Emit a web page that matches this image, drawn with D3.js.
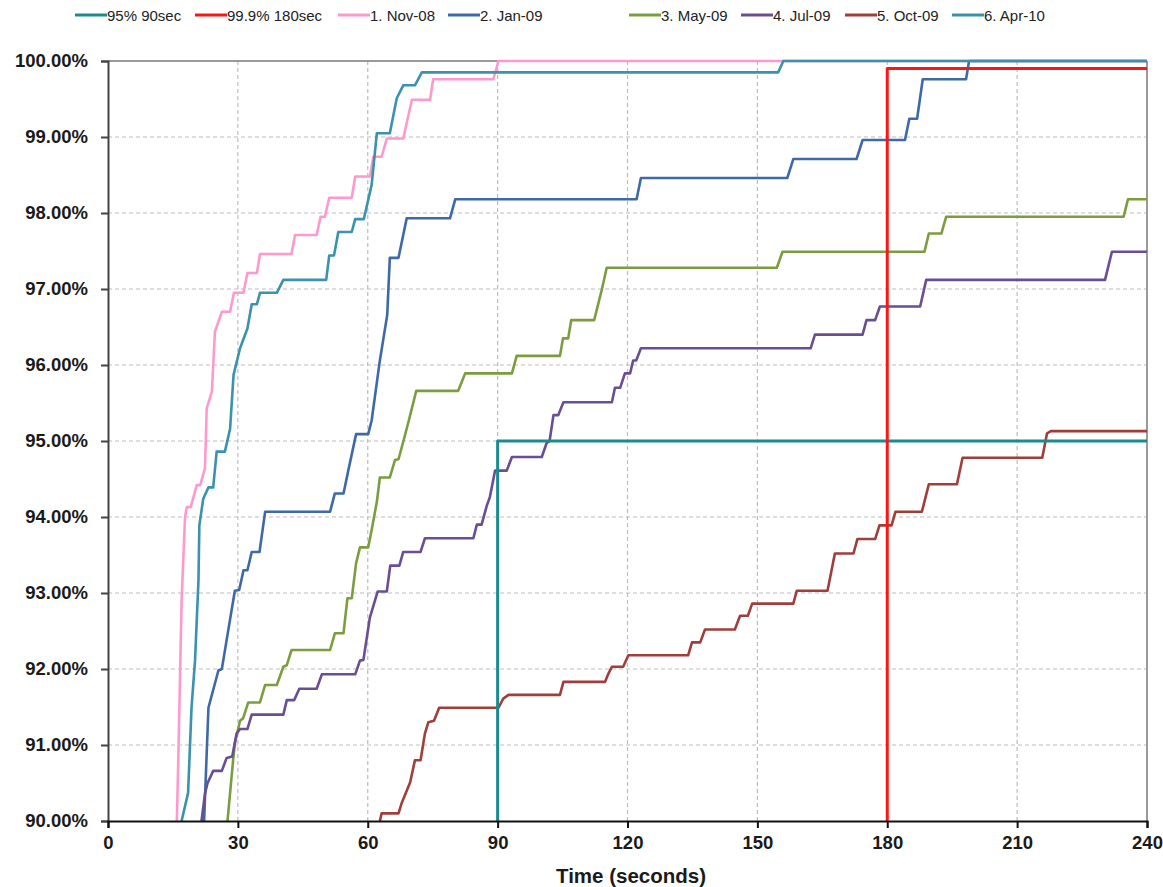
<!DOCTYPE html>
<html>
<head>
<meta charset="utf-8">
<script src="https://cdn.jsdelivr.net/npm/d3@7"></script>
<style>
  body { margin: 0; background: #fff; }
  text { font-family: "Liberation Sans", Arial, sans-serif; }
</style>
</head>
<body>
<div id="chart"></div>
<script>
// chart data: [seconds, percent]
var xTicks = [0, 30, 60, 90, 120, 150, 180, 210, 240];
var yTicks = [90, 91, 92, 93, 94, 95, 96, 97, 98, 99, 100];

var ref95 = [[90, 90], [90, 95], [240, 95]];
var ref999 = [[180, 90], [180, 99.9], [240, 99.9]];

var nov08 = [[15.9,90],[16.2,90.71],[17.0,92.9],[17.8,94.0],[18.2,94.13],[19.1,94.13],[20.5,94.42],[21.3,94.42],[22.4,94.64],[22.8,95.43],[24.0,95.65],[24.7,96.44],[26.3,96.7],[28.2,96.7],[29.1,96.95],[31.3,96.95],[32.2,97.21],[34.4,97.21],[35.1,97.46],[42.4,97.46],[43.2,97.71],[48.2,97.71],[49.1,97.95],[50.1,97.95],[51.1,98.2],[56.3,98.2],[57.1,98.48],[60.5,98.48],[61.3,98.74],[63.2,98.74],[64.4,98.98],[68.2,98.98],[70.2,99.49],[74.4,99.49],[75.1,99.76],[89.0,99.76],[90.2,100],[240,100]];

var jan09 = [[22.2,90],[23.2,91.49],[25.5,91.98],[26.3,92.0],[27.4,92.38],[29.3,93.03],[30.3,93.04],[31.3,93.3],[32.2,93.3],[33.2,93.54],[35.0,93.54],[36.3,94.07],[51.3,94.07],[52.4,94.31],[54.4,94.31],[55.5,94.61],[57.3,95.09],[60.1,95.09],[60.9,95.27],[62.8,96.06],[64.5,96.66],[65.1,97.41],[67.1,97.41],[69.0,97.93],[79.0,97.93],[80.2,98.18],[122.1,98.18],[123.1,98.46],[156.9,98.46],[158.3,98.71],[172.9,98.71],[174.3,98.96],[184.1,98.96],[185.1,99.24],[186.9,99.24],[188.2,99.76],[198.2,99.76],[198.9,100],[240,100]];

var may09 = [[27.6,90],[28.9,90.8],[29.3,91.02],[30.5,91.32],[31.2,91.35],[32.4,91.56],[35.1,91.56],[36.3,91.79],[39.0,91.79],[40.5,92.03],[41.3,92.05],[42.4,92.25],[51.3,92.25],[52.4,92.47],[54.4,92.47],[55.3,92.93],[56.3,92.93],[57.3,93.39],[58.2,93.6],[60.1,93.6],[60.9,93.83],[62.1,94.2],[62.8,94.52],[65.1,94.52],[66.3,94.75],[67.1,94.76],[68.2,94.99],[69.4,95.25],[71.2,95.66],[80.9,95.66],[82.5,95.89],[93.3,95.89],[94.4,96.12],[104.4,96.12],[105.1,96.35],[106.3,96.35],[107.0,96.59],[112.3,96.59],[114.1,97.0],[115.2,97.28],[154.5,97.28],[155.8,97.49],[188.6,97.49],[189.6,97.73],[192.5,97.73],[193.6,97.95],[234.6,97.95],[235.6,98.18],[240,98.18]];

var jul09 = [[21.6,90],[22.4,90.36],[23.0,90.5],[24.3,90.66],[26.3,90.66],[27.4,90.83],[28.7,90.85],[29.7,91.15],[30.5,91.21],[32.2,91.21],[33.2,91.4],[40.5,91.4],[41.3,91.59],[43.0,91.59],[44.2,91.74],[48.2,91.74],[49.4,91.93],[57.1,91.93],[58.2,92.11],[59.0,92.12],[60.5,92.68],[62.3,93.02],[64.4,93.02],[65.2,93.36],[67.3,93.36],[68.2,93.54],[72.2,93.54],[73.2,93.72],[84.4,93.72],[85.2,93.9],[86.3,93.9],[87.5,94.15],[88.2,94.26],[89.4,94.61],[92.1,94.61],[93.3,94.79],[100.2,94.79],[101.3,94.97],[102.0,95.0],[102.9,95.34],[104.0,95.34],[105.2,95.51],[116.4,95.51],[117.1,95.7],[118.3,95.7],[119.4,95.89],[120.6,95.89],[121.3,96.06],[122.0,96.06],[123.1,96.22],[162.3,96.22],[163.3,96.4],[174.3,96.4],[175.2,96.59],[177.2,96.59],[178.3,96.77],[187.6,96.77],[189.0,97.12],[230.3,97.12],[231.9,97.49],[240,97.49]];

var oct09 = [[62.8,90.0],[63.2,90.1],[67.1,90.1],[67.8,90.23],[69.8,90.51],[70.9,90.8],[72.2,90.8],[73.2,91.15],[74.0,91.3],[75.3,91.32],[76.5,91.49],[90.2,91.49],[91.3,91.61],[92.5,91.66],[104.4,91.66],[105.2,91.83],[114.8,91.83],[115.6,91.94],[116.4,92.03],[119.0,92.03],[120.2,92.18],[134.0,92.18],[134.9,92.35],[136.8,92.35],[137.9,92.52],[144.8,92.52],[146.0,92.7],[147.8,92.7],[148.8,92.86],[158.3,92.86],[159.1,93.03],[166.2,93.03],[167.9,93.52],[172.2,93.52],[173.1,93.71],[177.2,93.71],[178.2,93.89],[181.0,93.89],[181.9,94.07],[188.0,94.07],[189.6,94.43],[196.1,94.43],[197.4,94.78],[215.8,94.78],[216.9,95.1],[217.8,95.13],[240,95.13]];

var apr10 = [[17.0,90],[18.5,90.37],[19.3,91.5],[20.1,92.11],[20.9,93.17],[21.1,93.89],[22.0,94.24],[23.2,94.39],[24.3,94.39],[25.1,94.86],[27.0,94.86],[28.2,95.16],[29.0,95.87],[30.5,96.22],[32.2,96.48],[33.2,96.8],[34.4,96.8],[35.1,96.95],[39.0,96.95],[40.5,97.12],[50.4,97.12],[51.1,97.44],[52.2,97.44],[53.2,97.75],[56.3,97.75],[57.1,97.92],[59.1,97.92],[60.9,98.37],[62.1,99.05],[65.1,99.05],[66.7,99.51],[68.2,99.68],[70.9,99.68],[72.5,99.85],[154.8,99.85],[156.0,100],[240,100]];

var seriesNames = ["95% 90sec", "99.9% 180sec", "1. Nov-08", "2. Jan-09", "3. May-09", "4. Jul-09", "5. Oct-09", "6. Apr-10"];
var seriesColors = ["#1a8c8c", "#ff1414", "#ff99cc", "#3e69a6", "#7b9d3f", "#6a4e94", "#a03e3b", "#3a92ad"];
var seriesData = [ref95, ref999, nov08, jan09, may09, jul09, oct09, apr10];

var width = 1163, height = 887;
var margin = {top: 61, right: 16, bottom: 66, left: 108};

var svg = d3.select("#chart").append("svg")
	.attr("width", width)
	.attr("height", height)
	.style("background", "#fff");

var x = d3.scaleLinear().domain([0, 240]).range([margin.left, width - margin.right]);
var y = d3.scaleLinear().domain([90, 100]).range([height - margin.bottom, margin.top]);

// dashed grid
svg.append("g").selectAll("line.vgrid")
	.data(xTicks.slice(1, -1))
	.enter().append("line")
	.attr("x1", function(d){ return x(d); })
	.attr("x2", function(d){ return x(d); })
	.attr("y1", y(90)).attr("y2", y(100))
	.attr("stroke", "#bdbdbd").attr("stroke-width", 1.2)
	.attr("stroke-dasharray", "4,3");

svg.append("g").selectAll("line.hgrid")
	.data(yTicks.slice(1, -1))
	.enter().append("line")
	.attr("x1", x(0)).attr("x2", x(240))
	.attr("y1", function(d){ return y(d); })
	.attr("y2", function(d){ return y(d); })
	.attr("stroke", "#bdbdbd").attr("stroke-width", 1.2)
	.attr("stroke-dasharray", "4,3");

// plot frame, top and right in grey
svg.append("line").attr("x1", x(0)).attr("x2", x(240)).attr("y1", y(100)).attr("y2", y(100))
	.attr("stroke", "#9a9a9a").attr("stroke-width", 2);
svg.append("line").attr("x1", x(240)).attr("x2", x(240)).attr("y1", y(100)).attr("y2", y(90))
	.attr("stroke", "#9a9a9a").attr("stroke-width", 2);

// series
svg.append("clipPath").attr("id", "plotclip")
	.append("rect")
	.attr("x", x(0)).attr("y", y(100) - 2)
	.attr("width", x(240) - x(0) + 1).attr("height", y(90) - y(100) + 2);

var line = d3.line()
	.x(function(d){ return x(d[0]); })
	.y(function(d){ return y(d[1]); });

var order = [2, 3, 4, 5, 6, 7, 0, 1];
svg.append("g").attr("clip-path", "url(#plotclip)")
	.selectAll("path")
	.data(order)
	.enter().append("path")
	.attr("d", function(i){ return line(seriesData[i]); })
	.attr("fill", "none")
	.attr("stroke", function(i){ return seriesColors[i]; })
	.attr("stroke-width", function(i){ return i < 2 ? 3 : 2.6; })
	.attr("stroke-linejoin", "round");

// axes
var yAxis = d3.axisLeft(y).tickValues(yTicks).tickSize(7).tickPadding(13)
	.tickFormat(function(d){ return d.toFixed(2) + "%"; });
var gy = svg.append("g").attr("transform", "translate(" + x(0) + ",0)").call(yAxis);
gy.select(".domain").attr("stroke", "#444").attr("stroke-width", 2);
gy.selectAll(".tick line").attr("stroke", "#444").attr("stroke-width", 2);
gy.selectAll(".tick text").attr("font-size", "18.5px").attr("font-weight", "bold")
	.attr("fill", "#1a1a1a").attr("font-family", "'Liberation Sans', Arial, sans-serif");

var xAxis = d3.axisBottom(x).tickValues(xTicks).tickSize(7).tickPadding(8);
var gx = svg.append("g").attr("transform", "translate(0," + y(90) + ")").call(xAxis);
gx.select(".domain").attr("stroke", "#111").attr("stroke-width", 2);
gx.selectAll(".tick line").attr("stroke", "#111").attr("stroke-width", 2);
gx.selectAll(".tick text").attr("font-size", "18.5px").attr("font-weight", "bold")
	.attr("fill", "#1a1a1a").attr("font-family", "'Liberation Sans', Arial, sans-serif");

svg.append("text")
	.attr("x", 631).attr("y", 883)
	.attr("text-anchor", "middle")
	.attr("font-size", "20.5px").attr("font-weight", "bold").attr("fill", "#1a1a1a")
	.text("Time (seconds)");

// legend along the top
var legendX = [75, 195, 338, 448, 629, 741, 845, 952];
var legend = svg.append("g").selectAll("g")
	.data(seriesNames)
	.enter().append("g")
	.attr("transform", function(d, i){ return "translate(" + legendX[i] + ",15)"; });

legend.append("line")
	.attr("x1", 0).attr("x2", 32).attr("y1", 0).attr("y2", 0)
	.attr("stroke", function(d, i){ return seriesColors[i]; })
	.attr("stroke-width", 3);

legend.append("text")
	.attr("x", 32).attr("y", 5.5)
	.attr("font-size", "15px").attr("fill", "#222")
	.text(function(d){ return d; });
</script>
</body>
</html>
